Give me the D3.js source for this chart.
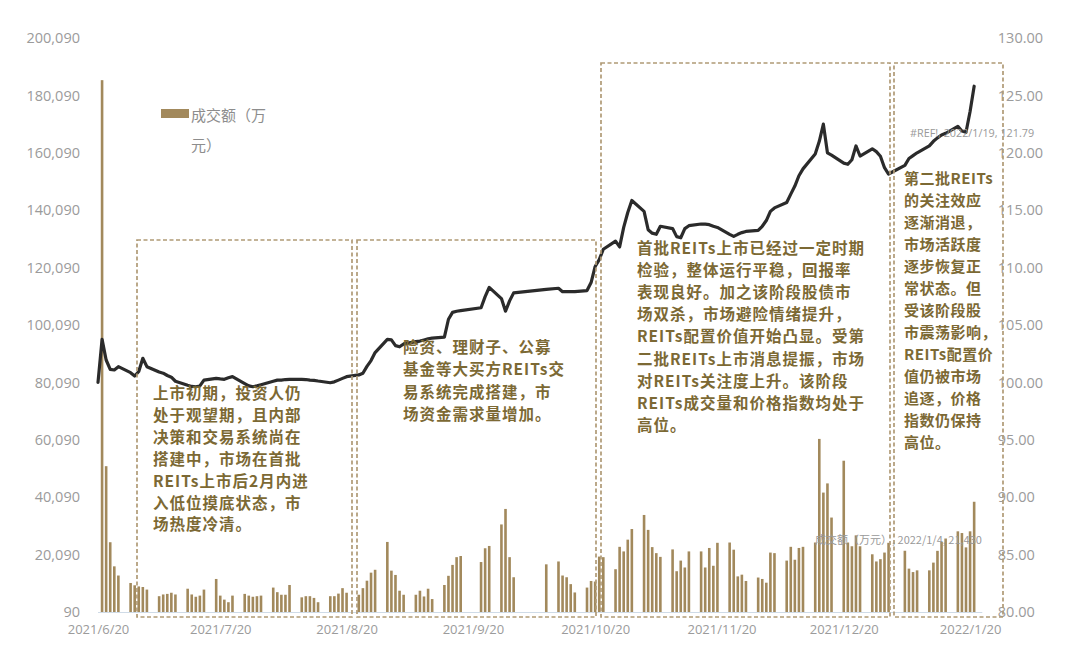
<!DOCTYPE html>
<html><head><meta charset="utf-8">
<script src="https://cdn.jsdelivr.net/npm/d3@7/dist/d3.min.js"></script>
<style>body{margin:0;background:#fff} svg{display:block}</style>
</head><body>
<svg id="c" width="1080" height="662"></svg>
<script>
// ---------------- DATA ----------------
const barDates = [
"2021/6/21","2021/6/22","2021/6/23","2021/6/24","2021/6/25",
"2021/6/28","2021/6/29","2021/6/30","2021/7/1","2021/7/2",
"2021/7/5","2021/7/6","2021/7/7","2021/7/8","2021/7/9",
"2021/7/12","2021/7/13","2021/7/14","2021/7/15","2021/7/16",
"2021/7/19","2021/7/20","2021/7/21","2021/7/22","2021/7/23",
"2021/7/26","2021/7/27","2021/7/28","2021/7/29","2021/7/30",
"2021/8/2","2021/8/3","2021/8/4","2021/8/5","2021/8/6",
"2021/8/9","2021/8/10","2021/8/11","2021/8/12","2021/8/13",
"2021/8/16","2021/8/17","2021/8/18","2021/8/19","2021/8/20",
"2021/8/23","2021/8/24","2021/8/25","2021/8/26","2021/8/27",
"2021/8/30","2021/8/31","2021/9/1","2021/9/2","2021/9/3",
"2021/9/6","2021/9/7","2021/9/8","2021/9/9","2021/9/10",
"2021/9/13","2021/9/14","2021/9/15","2021/9/16","2021/9/17",
"2021/9/22","2021/9/23","2021/9/24",
"2021/9/27","2021/9/28","2021/9/29","2021/9/30",
"2021/10/8",
"2021/10/11","2021/10/12","2021/10/13","2021/10/14","2021/10/15",
"2021/10/18","2021/10/19","2021/10/20","2021/10/21","2021/10/22",
"2021/10/25","2021/10/26","2021/10/27","2021/10/28","2021/10/29",
"2021/11/1","2021/11/2","2021/11/3","2021/11/4","2021/11/5",
"2021/11/8","2021/11/9","2021/11/10","2021/11/11","2021/11/12",
"2021/11/15","2021/11/16","2021/11/17","2021/11/18","2021/11/19",
"2021/11/22","2021/11/23","2021/11/24","2021/11/25","2021/11/26",
"2021/11/29","2021/11/30","2021/12/1","2021/12/2","2021/12/3",
"2021/12/6","2021/12/7","2021/12/8","2021/12/9","2021/12/10",
"2021/12/13","2021/12/14","2021/12/15","2021/12/16","2021/12/17",
"2021/12/20","2021/12/21","2021/12/22","2021/12/23","2021/12/24",
"2021/12/27","2021/12/28","2021/12/29","2021/12/30","2021/12/31",
"2022/1/4","2022/1/5","2022/1/6","2022/1/7",
"2022/1/10","2022/1/11","2022/1/12","2022/1/13","2022/1/14",
"2022/1/17","2022/1/18","2022/1/19","2022/1/20","2022/1/21"
];
const barValues = [
185400,50900,24400,16000,12800,
10200,9400,9000,8800,7900,
5600,6200,6400,6800,6200,
8200,6200,5400,5800,7900,
11600,5800,4400,3500,5800,
6400,5800,5400,5600,5800,
8600,7000,6100,6100,9500,
5200,5600,5600,5000,3500,
5600,5600,6500,8400,6800,
6100,8400,11000,13800,14800,
24500,14500,13000,7500,6100,
6100,7500,5500,8200,4600,
9500,12700,16500,19200,19600,
17500,22300,23100,
30600,36000,19200,12200,
16700,
17700,12800,12200,9800,6900,
8600,10900,10700,19400,19200,
15000,22800,21200,25300,29000,
33900,28700,22700,20600,19300,
21900,14300,18000,15600,21200,
21200,15600,22400,16200,24200,
24300,21800,12500,13100,10900,
12100,11600,10300,20800,20600,
18000,22800,18300,22400,22800,
24300,60400,41700,44900,33000,
52800,24300,23000,26800,23000,
20200,17700,18500,20800,24200,
21430,15200,14000,14600,
14600,17300,21400,24500,25700,
28200,27600,22600,28200,38500
];
const lineDates = [
"2021/6/20","2021/6/21","2021/6/22","2021/6/23","2021/6/24","2021/6/25",
"2021/6/28","2021/6/29","2021/6/30","2021/7/1","2021/7/2",
"2021/7/5","2021/7/6","2021/7/7","2021/7/8","2021/7/9",
"2021/7/12","2021/7/13","2021/7/14","2021/7/15","2021/7/16",
"2021/7/19","2021/7/20","2021/7/21","2021/7/22","2021/7/23",
"2021/7/26","2021/7/27","2021/7/28","2021/7/29","2021/7/30",
"2021/8/2","2021/8/3","2021/8/4","2021/8/5","2021/8/6",
"2021/8/9","2021/8/10","2021/8/11","2021/8/12","2021/8/13",
"2021/8/16","2021/8/17","2021/8/18","2021/8/19","2021/8/20",
"2021/8/23","2021/8/24","2021/8/25","2021/8/26","2021/8/27",
"2021/8/30","2021/8/31","2021/9/1","2021/9/2","2021/9/3",
"2021/9/6","2021/9/7","2021/9/8","2021/9/9","2021/9/10",
"2021/9/13","2021/9/14","2021/9/15","2021/9/16","2021/9/17",
"2021/9/22","2021/9/23","2021/9/24",
"2021/9/27","2021/9/28","2021/9/29","2021/9/30",
"2021/10/8",
"2021/10/11","2021/10/12","2021/10/13","2021/10/14","2021/10/15",
"2021/10/18","2021/10/19","2021/10/20","2021/10/21","2021/10/22",
"2021/10/25","2021/10/26","2021/10/27","2021/10/28","2021/10/29",
"2021/11/1","2021/11/2","2021/11/3","2021/11/4","2021/11/5",
"2021/11/8","2021/11/9","2021/11/10","2021/11/11","2021/11/12",
"2021/11/15","2021/11/16","2021/11/17","2021/11/18","2021/11/19",
"2021/11/22","2021/11/23","2021/11/24","2021/11/25","2021/11/26",
"2021/11/29","2021/11/30","2021/12/1","2021/12/2","2021/12/3",
"2021/12/6","2021/12/7","2021/12/8","2021/12/9","2021/12/10",
"2021/12/13","2021/12/14","2021/12/15","2021/12/16","2021/12/17",
"2021/12/20","2021/12/21","2021/12/22","2021/12/23","2021/12/24",
"2021/12/27","2021/12/28","2021/12/29","2021/12/30","2021/12/31",
"2022/1/4","2022/1/5","2022/1/6","2022/1/7",
"2022/1/10","2022/1/11","2022/1/12","2022/1/13","2022/1/14",
"2022/1/17","2022/1/18","2022/1/19","2022/1/20","2022/1/21"
];
const lineValues = [
100.0,103.75,101.95,101.14,101.08,101.37,
100.85,100.56,100.95,102.1,101.37,
100.9,100.8,100.6,100.45,100.1,
99.75,99.65,99.62,99.69,100.2,
100.35,100.3,100.27,100.4,100.5,
99.9,99.7,99.62,99.7,99.8,
100.1,100.2,100.2,100.25,100.27,
100.27,100.25,100.2,100.18,100.12,
99.97,100.05,100.2,100.35,100.5,
100.65,100.8,101.4,101.9,102.6,
103.75,103.7,103.2,103.1,103.35,
103.55,103.6,103.7,103.8,103.85,
103.95,105.5,106.1,106.2,106.25,
106.5,107.47,108.28,
107.3,106.2,107.1,107.8,
108.1,
108.2,107.9,107.9,107.9,107.9,
108.0,108.7,110.1,110.7,111.6,
112.3,111.8,113.5,114.8,115.85,
114.9,113.3,113.0,112.9,113.6,
113.4,112.7,112.6,113.4,113.65,
113.8,113.78,113.74,113.6,113.5,
112.9,112.72,112.9,113.05,113.15,
113.24,113.6,114.1,114.9,115.2,
115.67,116.4,117.1,118.0,118.6,
119.9,121.0,122.5,120.0,119.8,
119.1,119.0,119.4,120.6,119.72,
120.35,120.1,119.7,118.7,118.15,
118.9,119.5,119.75,120.0,
120.6,121.0,121.3,121.55,121.7,
122.3,121.9,121.79,123.6,125.8
];
const xTickLabels = ["2021/6/20","2021/7/20","2021/8/20","2021/9/20","2021/10/20","2021/11/20","2021/12/20","2022/1/20"];
const leftTicks = [90,20090,40090,60090,80090,100090,120090,140090,160090,180090,200090];
const rightTicks = [80,85,90,95,100,105,110,115,120,125,130];
const legendLines = ["成交额（万","元）"];
const lineLabel = "#REF!, 2022/1/19, 121.79";
const barLabel = "成交额（万元）, 2022/1/4, 21,430";
const note1 = ["上市初期，投资人仍","处于观望期，且内部","决策和交易系统尚在","搭建中，市场在首批","REITs上市后2月内进","入低位摸底状态，市","场热度冷清。"];
const note2 = ["险资、理财子、公募","基金等大买方REITs交","易系统完成搭建，市","场资金需求量增加。"];
const note3 = ["首批REITs上市已经过一定时期","检验，整体运行平稳，回报率","表现良好。加之该阶段股债市","场双杀，市场避险情绪提升，","REITs配置价值开始凸显。受第","二批REITs上市消息提振，市场","对REITs关注度上升。该阶段","REITs成交量和价格指数均处于","高位。"];
const note4 = ["第二批REITs","的关注效应","逐渐消退，","市场活跃度","逐步恢复正","常状态。但","受该阶段股","市震荡影响，","REITs配置价","值仍被市场","追逐，价格","指数仍保持","高位。"];

// ---------------- CHART ----------------
(function () {
const parse = d3.utcParse("%Y/%m/%d");
const svg = d3.select("#c");
const pl = 98, pr = 982.3, pt = 38, pb = 612;
const x = d3.scaleUtc().domain([parse("2021/6/20"), parse("2022/1/23")]).range([pl, pr]);
const yL = d3.scaleLinear().domain([90, 200090]).range([pb, pt]);
const yR = d3.scaleLinear().domain([80, 130]).range([pb, pt]);

const axisColor = "#9b9b9b";
const barColor = "#a2895c";
const noteColor = "#7c6934";
const boxColor = "#b09a76";

svg.append("line").attr("x1", pl).attr("x2", pr).attr("y1", pb + 0.5).attr("y2", pb + 0.5)
  .attr("stroke", "#cfdbe7").attr("stroke-width", 1);

const gL = svg.append("g").attr("transform", `translate(${pl},0)`)
  .call(d3.axisLeft(yL).tickValues(leftTicks).tickFormat(d3.format(",")).tickSize(0).tickPadding(18));
gL.select(".domain").remove();
gL.selectAll("text").attr("fill", axisColor).style("font-family", "'Open Sans', sans-serif").style("font-size", "14.5px");

const gR = svg.append("g").attr("transform", `translate(${pr},0)`)
  .call(d3.axisRight(yR).tickValues(rightTicks).tickFormat(d3.format(".2f")).tickSize(0).tickPadding(15.5));
gR.select(".domain").remove();
gR.selectAll("text").attr("fill", axisColor).style("font-family", "'Open Sans', sans-serif").style("font-size", "14.5px");

const gX = svg.append("g").attr("transform", `translate(0,${pb})`)
  .call(d3.axisBottom(x).tickValues(xTickLabels.map(parse)).tickFormat(d3.utcFormat("%Y/%-m/%-d")).tickSize(0).tickPadding(13));
gX.select(".domain").remove();
gX.selectAll("text").attr("fill", axisColor).style("font-family", "'Open Sans', sans-serif").style("font-size", "13px");

const bars = barDates.map((d, i) => ({ date: parse(d), v: barValues[i] }));
const bw = 2.6;
svg.append("g").selectAll("rect").data(bars).join("rect")
  .attr("x", d => x(d.date) - bw / 2)
  .attr("width", bw)
  .attr("y", d => yL(d.v))
  .attr("height", d => yL(90) - yL(d.v))
  .attr("fill", barColor);

const pts = lineDates.map((d, i) => ({ date: parse(d), v: lineValues[i] }));
svg.append("path").datum(pts)
  .attr("d", d3.line().x(d => x(d.date)).y(d => yR(d.v)))
  .attr("fill", "none").attr("stroke", "#2b2b2b").attr("stroke-width", 3.2)
  .attr("stroke-linejoin", "round").attr("stroke-linecap", "round");

const boxes = [
  { x: 137, y: 240, w: 215, h: 377 },
  { x: 357, y: 240, w: 239, h: 377 },
  { x: 601, y: 63, w: 289, h: 554 },
  { x: 894, y: 63, w: 109, h: 554 }
];
svg.append("g").selectAll("rect").data(boxes).join("rect")
  .attr("x", d => d.x).attr("y", d => d.y).attr("width", d => d.w).attr("height", d => d.h)
  .attr("fill", "none").attr("stroke", boxColor).attr("stroke-width", 1.7).attr("stroke-dasharray", "4,2.5");

function note(lines, x0, y0, dy, fs, ls) {
  const t = svg.append("text").attr("fill", noteColor)
    .style("font-family", "'Noto Sans CJK SC', sans-serif").style("font-weight", "700")
    .style("font-size", fs + "px").style("letter-spacing", ls + "px");
  lines.forEach((s, i) => {
    t.append("tspan").attr("x", x0).attr("y", y0 + i * dy).attr("dominant-baseline", "central").text(s);
  });
}
note(note1, 153, 392, 21.9, 15.5, 1);
note(note2, 403, 346, 22.4, 15.5, 1);
note(note3, 637, 247, 22.1, 15.5, 1);
note(note4, 904, 177, 22.0, 15, 0.5);

svg.append("rect").attr("x", 161).attr("y", 109).attr("width", 28).attr("height", 9).attr("fill", barColor);
legendLines.forEach((s, i) => {
  svg.append("text").attr("x", 191).attr("y", 114 + i * 30).attr("dominant-baseline", "central")
    .attr("fill", "#8d8d8d").style("font-family", "'Noto Sans CJK SC', sans-serif").style("font-size", "15px").text(s);
});

svg.append("text").attr("x", 910).attr("y", 132).attr("dominant-baseline", "central")
  .attr("fill", "#999").style("font-family", "'Open Sans', sans-serif").style("font-size", "10.8px").text(lineLabel);
svg.append("text").attr("x", 815).attr("y", 539).attr("dominant-baseline", "central")
  .attr("fill", "#999").style("font-family", "'Noto Sans CJK SC', sans-serif").style("font-size", "11px").text(barLabel);
})();
</script>
</body></html>
